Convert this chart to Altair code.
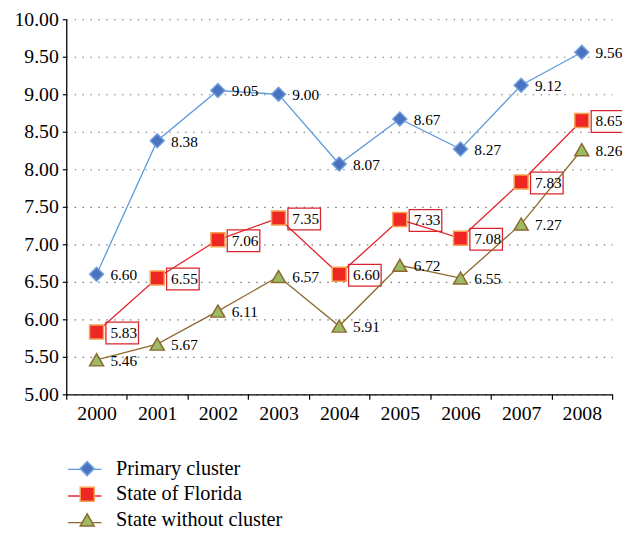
import altair as alt
import pandas as pd

years = ["2000", "2001", "2002", "2003", "2004", "2005", "2006", "2007", "2008"]
series_names = ["Primary cluster", "State of Florida", "State without cluster"]
primary = [6.60, 8.38, 9.05, 9.00, 8.07, 8.67, 8.27, 9.12, 9.56]
florida = [5.83, 6.55, 7.06, 7.35, 6.60, 7.33, 7.08, 7.83, 8.65]
without = [5.46, 5.67, 6.11, 6.57, 5.91, 6.72, 6.55, 7.27, 8.26]
y_ticks = [5.0, 5.5, 6.0, 6.5, 7.0, 7.5, 8.0, 8.5, 9.0, 9.5, 10.0]

line_colors = ["#5f9bdc", "#e3262d", "#8c6a2f"]
fill_colors = ["#4a72bf", "#ee2724", "#9bbb64"]
stroke_colors = ["#6fa0dc", "#f6a14f", "#8c6a2f"]
shapes = ["diamond", "square", "triangle-up"]

rows = []
for name, vals in zip(series_names, [primary, florida, without]):
    for yr, v in zip(years, vals):
        rows.append({"year": yr, "series": name, "value": v})
df = pd.DataFrame(rows)

FONT = "Liberation Serif"

x_enc = alt.X(
    "year:O",
    scale=alt.Scale(type="band", paddingInner=0, paddingOuter=0),
    axis=alt.Axis(title=None, labelAngle=0, tickBand="extent", grid=False,
                  labelFontSize=20, labelPadding=4, tickSize=5),
)
y_enc = alt.Y(
    "value:Q",
    scale=alt.Scale(domain=[5, 10], nice=False, zero=False),
    axis=alt.Axis(title=None, values=y_ticks, format=".2f", grid=True,
                  gridDash=[1.5, 6.5], gridColor="#777777", gridWidth=1.2,
                  labelFontSize=20, labelPadding=4, tickSize=4),
)

base = alt.Chart(df).encode(x=x_enc, y=y_enc)

LEG_Y = 445
line_legend = alt.Legend(
    title=None, orient="none", legendX=7.75, legendY=LEG_Y, direction="vertical",
    symbolType="M-1.65,0H1.65", symbolSize=420.25, symbolStrokeWidth=1.4,
    labelExpr="''", labelFontSize=20.5, labelFont=FONT, rowPadding=5,
    labelOffset=0, zindex=0,
)
point_legend = alt.Legend(
    title=None, orient="none", legendX=11, legendY=LEG_Y, direction="vertical",
    symbolSize=200, symbolStrokeWidth=1.5, labelFontSize=20.5, labelFont=FONT,
    labelColor="black", rowPadding=5, labelOffset=19, labelLimit=400, zindex=1,
)

lines = base.transform_calculate(line_series="datum.series").mark_line(strokeWidth=1.3).encode(
    color=alt.Color("line_series:N", scale=alt.Scale(range=line_colors),
                    legend=line_legend)
)

boxes = base.transform_filter(alt.datum.series == "State of Florida").mark_point(
    shape="M-1.2,-0.8H1.2V0.8H-1.2Z", size=756, filled=True, fill="white",
    stroke="#d9262e", strokeWidth=1.3, opacity=1, xOffset=26, yOffset=1,
)

points = base.mark_point(filled=True, size=200, strokeWidth=1.5, opacity=1).encode(
    fill=alt.Fill("series:N", scale=alt.Scale(domain=series_names, range=fill_colors),
                  legend=point_legend),
    stroke=alt.Stroke("series:N", scale=alt.Scale(domain=series_names, range=stroke_colors),
                      legend=point_legend),
    shape=alt.Shape("series:N", scale=alt.Scale(domain=series_names, range=shapes),
                    legend=point_legend),
)

labels = base.mark_text(align="left", baseline="middle", dx=14, dy=1,
                        font=FONT, fontSize=15.5, color="black").encode(
    text=alt.Text("value:Q", format=".2f")
)

chart = alt.layer(boxes, lines, points, labels).properties(
    width=553, height=380,
    autosize=alt.AutoSizeParams(type="none"),
    padding={"left": 59, "top": 8, "right": 10, "bottom": 131},
).configure_view(stroke=None).configure_axis(
    domainColor="black", domainWidth=1.3, tickColor="black", tickWidth=1.2,
    labelFont=FONT, labelColor="black",
).configure_legend(padding=0)

chart.save("out.html", embed_options={"renderer": "svg", "actions": False})
